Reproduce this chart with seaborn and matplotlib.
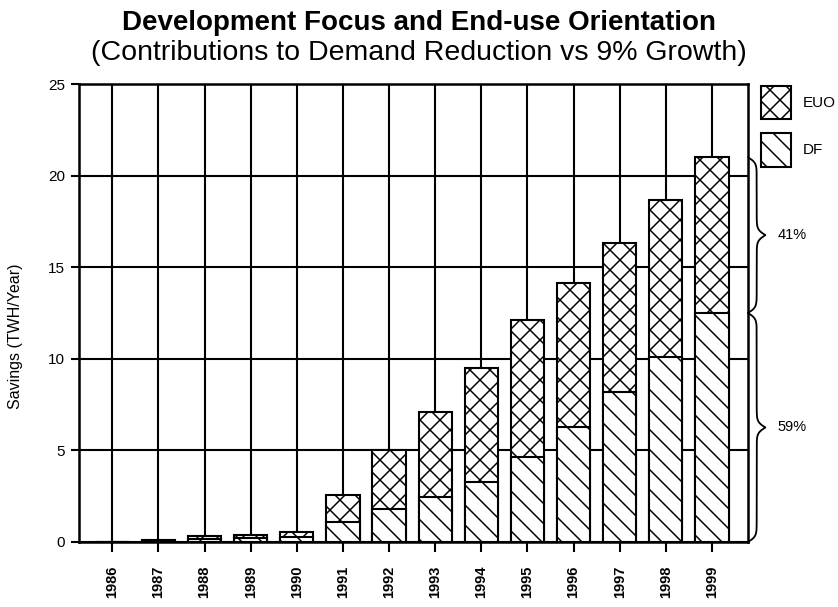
import seaborn as sns
import matplotlib.pyplot as plt
import matplotlib.transforms as mtransforms
from matplotlib.patches import Patch
import numpy as np

years = ["1986", "1987", "1988", "1989", "1990", "1991", "1992",
         "1993", "1994", "1995", "1996", "1997", "1998", "1999"]
df_savings = [0, 0.05, 0.15, 0.2, 0.25, 1.1, 1.8, 2.45, 3.3, 4.65, 6.3, 8.2, 10.1, 12.5]
total_savings = [0, 0.12, 0.33, 0.38, 0.53, 2.55, 5.0, 7.1, 9.5, 12.1, 14.15, 16.3, 18.65, 21.0]
y_ticks = [0, 5, 10, 15, 20, 25]
share_labels = ["59%", "41%"]

# drawn at 120 dpi so the hatch cell is a bit coarser; S keeps pixel sizes the same
DPI = 120
S = 100 / DPI

sns.set_style("ticks")
plt.rcParams['font.family'] = ['Liberation Sans', 'DejaVu Sans']
plt.rcParams['hatch.linewidth'] = 0.9
plt.rcParams['hatch.color'] = 'black'
plt.rcParams['text.color'] = 'black'
plt.rcParams['axes.labelcolor'] = 'black'
plt.rcParams['xtick.color'] = 'black'
plt.rcParams['ytick.color'] = 'black'

hatch_euo = 'xx'
hatch_df = '\\\\'


def curly_brace(ax, y0, y1, x0=1.0, width=0.026, beta=0.9):
    # brace in (axes x, data y); beta controls curl sharpness in data units
    y = np.linspace(y0, y1, 401)
    half = y[:201]
    k = 1.0 / beta * 6
    xh = 1 / (1 + np.exp(-k * (half - half[0]))) + 1 / (1 + np.exp(-k * (half - half[-1])))
    xb = np.concatenate((xh, xh[-2::-1]))
    xb = x0 + (xb - xb[0]) * width
    trans = mtransforms.blended_transform_factory(ax.transAxes, ax.transData)
    ax.plot(xb, y, color='black', lw=1.3 * S, transform=trans, clip_on=False)
    return trans


fig = plt.figure(figsize=(838 / DPI, 607 / DPI), dpi=DPI)
ax = fig.add_axes([0.0943, 0.1071, 0.7983, 0.7545])

sns.barplot(x=years, y=total_savings, color='white', saturation=1, edgecolor='black',
            hatch=hatch_euo, linewidth=1.5 * S, width=0.72, ax=ax)
sns.barplot(x=years, y=df_savings, color='white', saturation=1, edgecolor='black',
            hatch=hatch_df, linewidth=1.5 * S, width=0.72, ax=ax)

ax.set_axisbelow(True)
ax.grid(True, axis='both', color='black', lw=1.5 * S)

ax.set_xlim(-0.72, 13.78)
ax.set_ylim(0, 25)
ax.set_yticks(y_ticks)
ax.set_yticklabels([str(t) for t in y_ticks], fontsize=11 * S)
ax.set_xticks(range(len(years)))
ax.set_xticklabels(years, rotation=90, fontsize=10.5 * S, fontweight='bold')
ax.tick_params(axis='x', length=7 * S, width=1.5 * S, pad=10 * S, color='black')
ax.tick_params(axis='y', length=6 * S, width=1.5 * S, pad=4 * S, color='black')

for s in ax.spines.values():
    s.set_visible(True)
    s.set_color('black')
    s.set_linewidth(1.8 * S)

ax.set_xlabel('')
ax.set_ylabel('Savings (TWH/Year)', fontsize=11.5 * S)
ax.yaxis.set_label_coords(-0.083, 0.45)

# braces for shares
trans = curly_brace(ax, 0, df_savings[-1])
ax.text(1.044, df_savings[-1] / 2, share_labels[0], transform=trans, fontsize=10.5 * S,
        va='center', ha='left')
curly_brace(ax, df_savings[-1], total_savings[-1])
ax.text(1.044, (df_savings[-1] + total_savings[-1]) / 2, share_labels[1], transform=trans,
        fontsize=10.5 * S, va='center', ha='left')

handles = [Patch(facecolor='white', edgecolor='black', hatch=hatch_euo, lw=1.5 * S),
           Patch(facecolor='white', edgecolor='black', hatch=hatch_df, lw=1.5 * S)]
ax.legend(handles, ['EUO', 'DF'], loc='upper left', bbox_to_anchor=(1.019, 0.996),
          frameon=False, fontsize=11 * S, handlelength=1.96, handleheight=3.0,
          labelspacing=0.9, handletextpad=0.8, borderpad=0, borderaxespad=0)

fig.text(0.5, 0.962, 'Development Focus and End-use Orientation', ha='center',
         va='center', fontsize=20 * S, fontweight='bold')
fig.text(0.5, 0.912, '(Contributions to Demand Reduction vs 9% Growth)', ha='center',
         va='center', fontsize=20.5 * S)

plt.savefig("out.png", dpi=DPI)
plt.close()
